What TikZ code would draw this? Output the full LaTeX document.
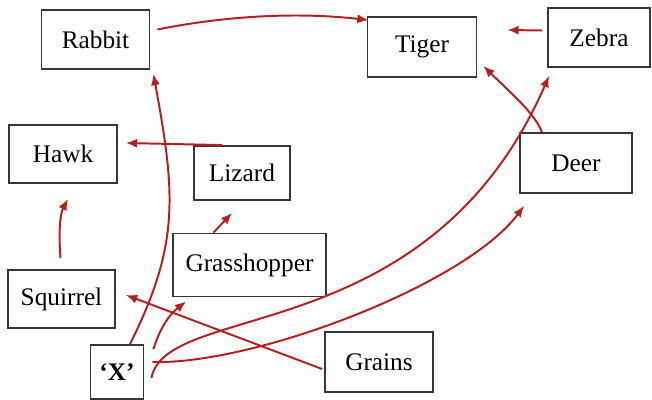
\documentclass[tikz,border=0pt]{standalone}
\usepackage{fontspec}
\setmainfont{Liberation Serif}
\usepackage{xcolor}
\usetikzlibrary{arrows.meta}

\definecolor{arrred}{RGB}{185,30,30}
\definecolor{boxgray}{RGB}{55,55,55}

\begin{document}
\begin{tikzpicture}[x=0.025cm, y=0.025cm,
  box/.style={draw=boxgray, line width=1.3pt, minimum height=1.45cm, inner sep=2pt,
    font=\fontsize{18}{20}\selectfont},
  arr/.style={draw=arrred, line width=1.4pt, -{Latex[length=8pt,width=6.5pt]}}]
  \useasboundingbox (0,0) rectangle (652,-400);
  % organisms
  \node[box, minimum width=2.7cm, minimum height=1.475cm] (rabbit) at (95.5,-39.5) {Rabbit};
  \node[box, minimum width=2.725cm, minimum height=1.5cm] (tiger) at (422,-47) {Tiger};
  \node[box, minimum width=2.55cm, minimum height=1.475cm] (zebra) at (599,-37.5) {Zebra};
  \node[box, minimum width=2.7cm] (hawk) at (63,-154) {Hawk};
  \node[box, minimum width=2.4cm, minimum height=1.35cm] (lizard) at (242,-173) {Lizard};
  \node[box, minimum width=2.8cm, minimum height=1.5cm] (deer) at (576,-163) {Deer};
  \node[box, minimum width=3.825cm, minimum height=1.575cm] (hopper) at (249.5,-265) {Grasshopper};
  \node[box, minimum width=2.675cm] (squirrel) at (61.5,-299) {Squirrel};
  \node[box, minimum width=1.325cm, minimum height=1.35cm] (x) at (117,-372) {\textbf{`X'}};
  \node[box, minimum width=2.7cm, minimum height=1.5cm] (grains) at (379,-362) {Grains};
  % who eats whom
  \draw[arr] ([shift={(7,10)}]rabbit.east) .. controls +(70,14) and +(-70,8) .. ([shift={(2,-4)}]tiger.north west);
  \draw[arr] ([shift={(-5,7)}]zebra.west) -- ([shift={(30,17)}]tiger.east);
  \draw[arr] ([shift={(-20,0)}]lizard.north) -- ([shift={(8,11)}]hawk.east);
  \draw[arr] ([shift={(-1,11)}]squirrel.north) .. controls +(-2,25) and +(-8,-15) .. ([shift={(5,-15)}]hawk.south);
  \draw[arr] ([shift={(-36,0)}]hopper.north) -- ([shift={(-10,-12)}]lizard.south);
  \draw[arr] ([shift={(13,0)}]x.north) .. controls +(50,100) and +(22,-120) .. ([shift={(3,-4)}]rabbit.south east);
  \draw[arr] ([shift={(9,-5)}]x.north east) .. controls +(8,25) and +(-15,-12) .. ([shift={(14,-4)}]hopper.south west);
  \draw[arr] ([shift={(7,-6)}]x.east) .. controls +(15,78) and +(-120,-275) .. ([shift={(2,-8)}]zebra.south west);
  \draw[arr] ([shift={(8,10)}]x.east) .. controls +(100,-3) and +(-60,-80) .. ([shift={(5,-12)}]deer.south west);
  \draw[arr] ([shift={(-34,0)}]deer.north) .. controls +(-8,20) and +(25,-25) .. ([shift={(6,12)}]tiger.south east);
  \draw[arr] ([shift={(-2,-7)}]grains.west) -- ([shift={(10,4)}]squirrel.east);
\end{tikzpicture}
\end{document}
